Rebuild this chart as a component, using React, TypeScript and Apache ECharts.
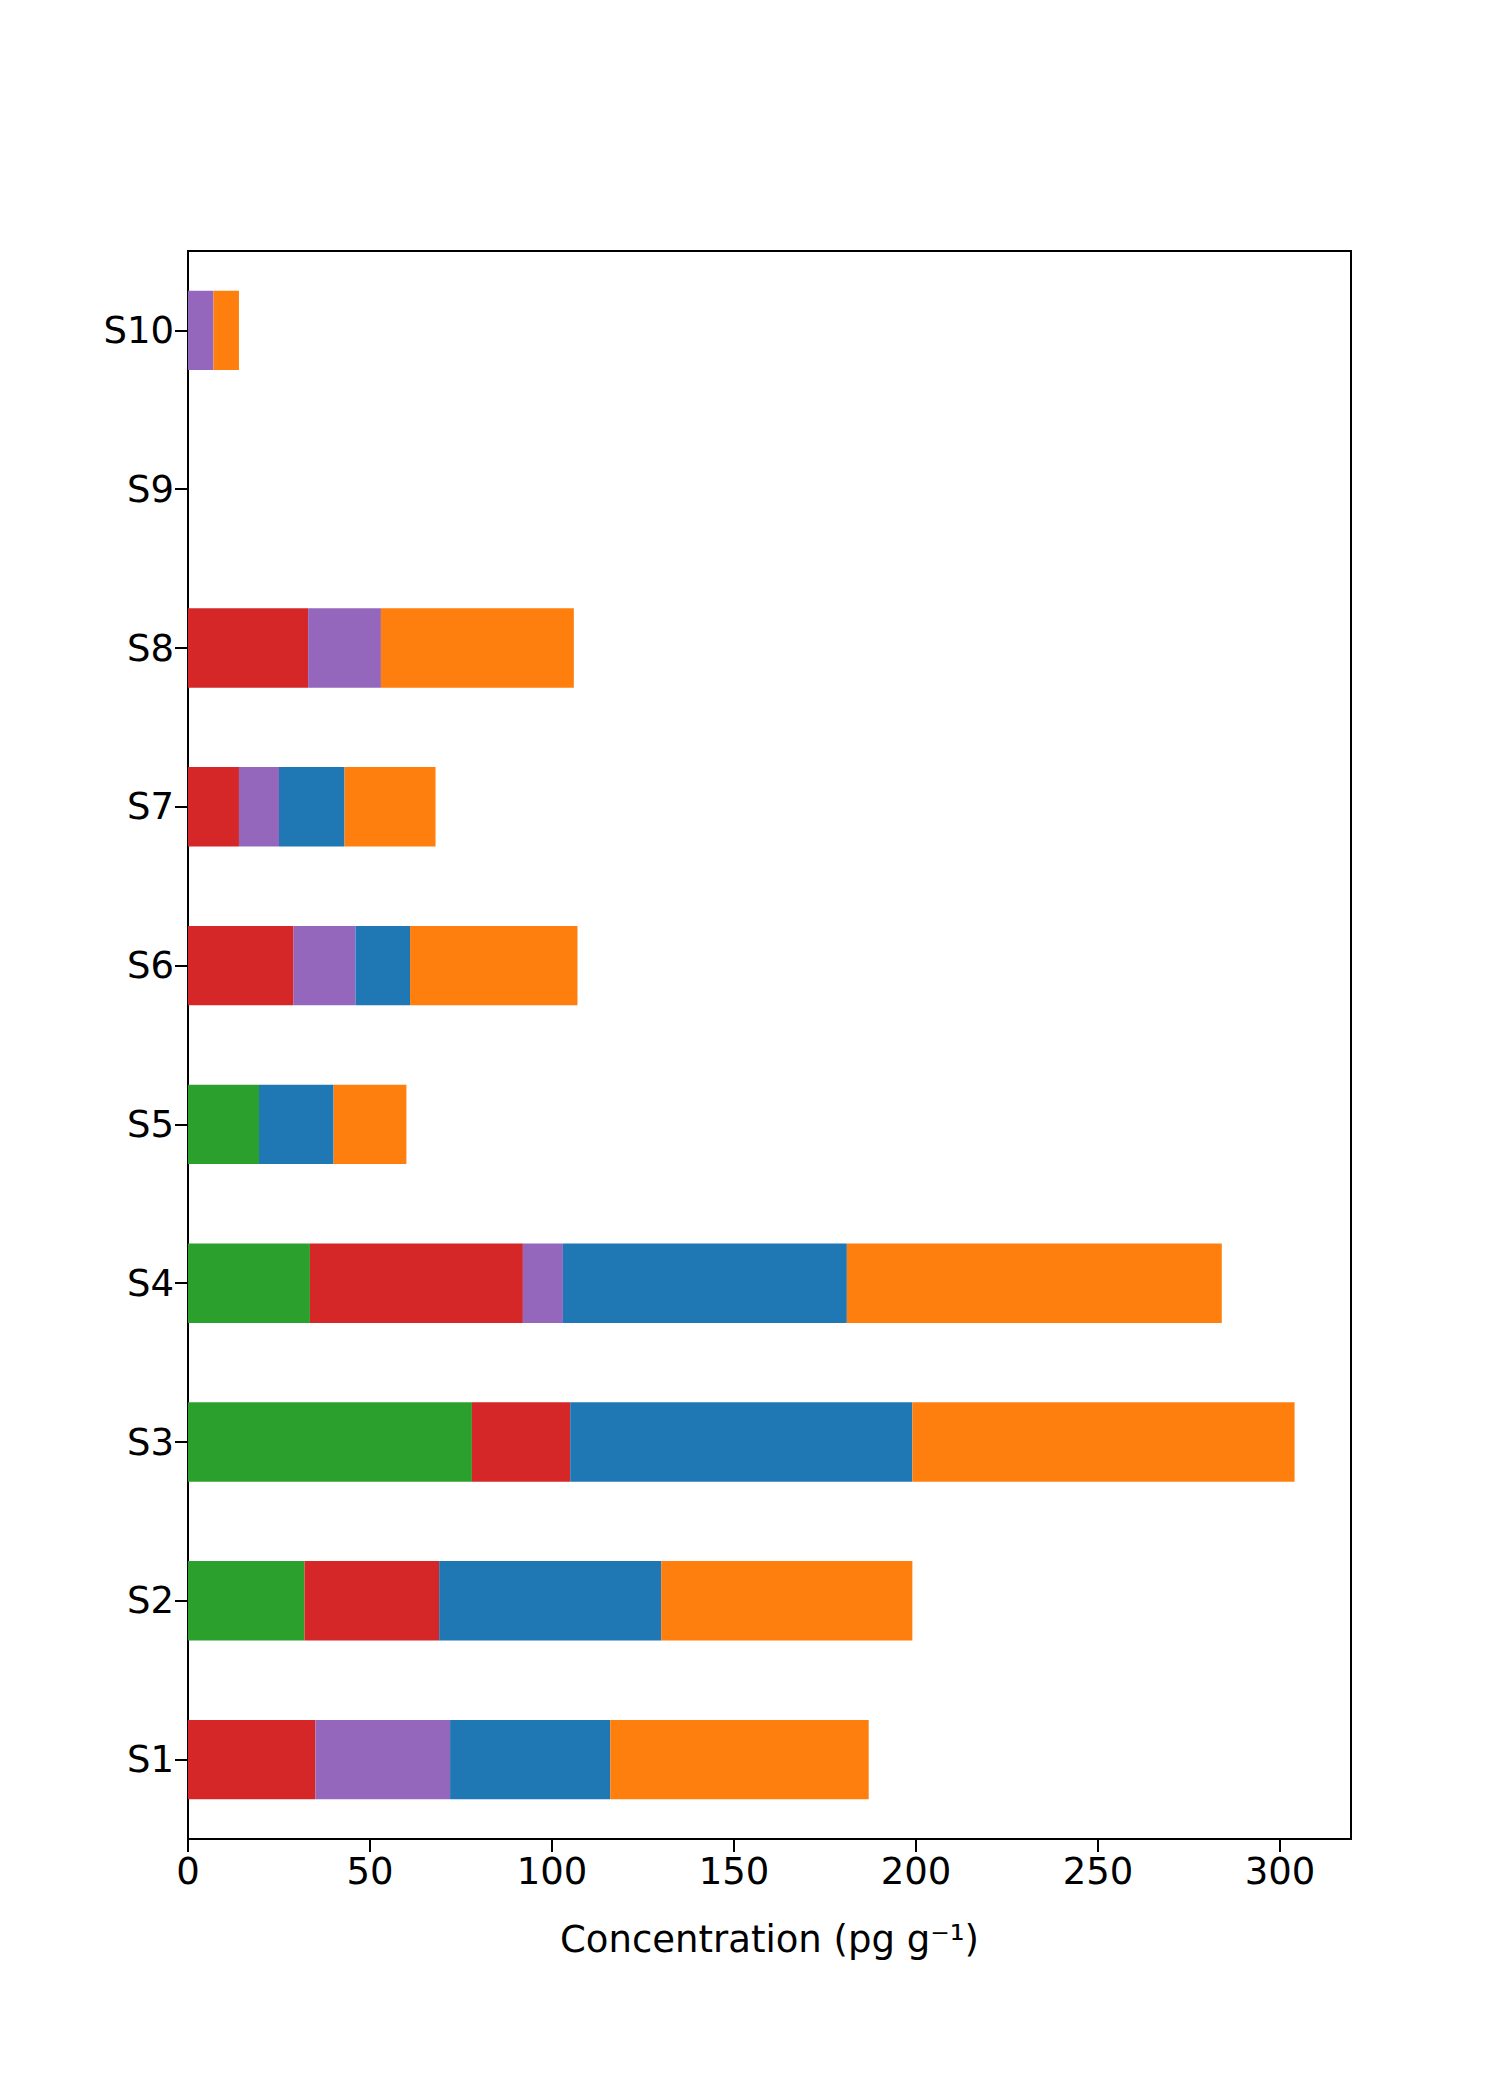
import { useEffect, useRef } from 'react';
import * as echarts from 'echarts';

const samples = ['S1', 'S2', 'S3', 'S4', 'S5', 'S6', 'S7', 'S8', 'S9', 'S10'];
// segment lengths, stacked left to right: green, red, purple, blue, orange
const green = [0, 32, 78, 33.5, 19.5, 0, 0, 0, 0, 0];
const red = [35, 37, 27, 58.5, 0, 29, 14, 33, 0, 0];
const purple = [37, 0, 0, 11, 0, 17, 11, 20, 0, 7];
const blue = [44, 61, 94, 78, 20.5, 15, 18, 0, 0, 0];
const orange = [71, 69, 105, 103, 20, 46, 25, 53, 0, 7];
const xTicks = [0, 50, 100, 150, 200, 250, 300];

const layers = [
  { name: 'green', data: green, color: '#2ca02c' },
  { name: 'red', data: red, color: '#d62728' },
  { name: 'purple', data: purple, color: '#9467bd' },
  { name: 'blue', data: blue, color: '#1f77b4' },
  { name: 'orange', data: orange, color: '#ff7f0e' },
];

export default function App() {
  const chartRef = useRef<HTMLDivElement>(null);

  useEffect(() => {
    if (!chartRef.current) return;
    document.body.style.margin = '0';
    const chart = echarts.init(chartRef.current, undefined, { renderer: 'svg' });
    const font = 'DejaVu Sans';
    const gl = 188, gr = 149, gt = 251, gb = 261;

    chart.setOption({
      animation: false,
      backgroundColor: '#ffffff',
      grid: { left: gl, right: gr, top: gt, bottom: gb },
      xAxis: {
        type: 'value',
        min: 0,
        max: 319.5,
        interval: 50,
        name: 'Concentration (pg g⁻¹)',
        nameLocation: 'middle',
        nameGap: 82,
        nameTextStyle: { fontFamily: font, fontSize: 37, color: '#000' },
        axisLine: { show: true, onZero: false, lineStyle: { color: '#000', width: 2 } },
        axisTick: { show: true, length: 13, customValues: xTicks, lineStyle: { color: '#000', width: 2 } },
        axisLabel: {
          fontFamily: font,
          fontSize: 37,
          color: '#000',
          margin: 14,
          customValues: xTicks,
        },
        splitLine: { show: false },
      },
      yAxis: {
        type: 'category',
        data: samples,
        axisLine: { show: true, lineStyle: { color: '#000', width: 2 } },
        axisTick: { show: true, alignWithLabel: true, length: 13, lineStyle: { color: '#000', width: 2 } },
        axisLabel: { fontFamily: font, fontSize: 37, color: '#000', margin: 14 },
      },
      graphic: [
        {
          type: 'rect',
          shape: { x: gl, y: gt, width: 1500 - gl - gr, height: 2100 - gt - gb },
          style: { fill: 'none', stroke: '#000', lineWidth: 2 },
          silent: true,
        },
      ],
      series: layers.map((l) => ({
        name: l.name,
        type: 'bar',
        stack: 'total',
        data: l.data,
        barWidth: '50%',
        itemStyle: { color: l.color },
      })),
    });

    return () => chart.dispose();
  }, []);

  return <div ref={chartRef} style={{ width: 1500, height: 2100 }} />;
}
